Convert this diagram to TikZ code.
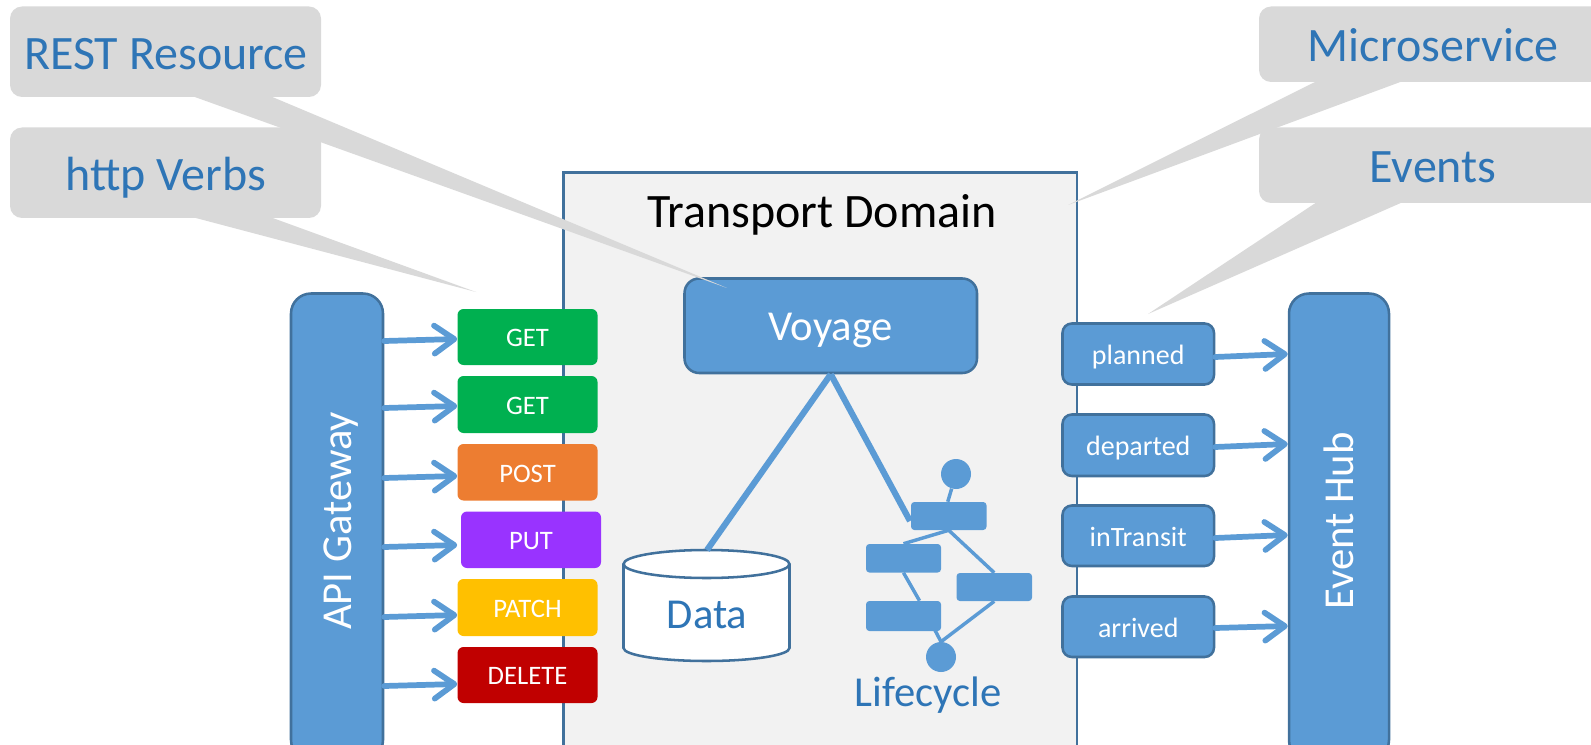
\documentclass[tikz,border=0pt]{standalone}
\usepackage{fontspec}
\setmainfont{Carlito}
\usetikzlibrary{arrows.meta,calc,positioning}
\definecolor{blu}{HTML}{5B9BD5}
\definecolor{bord}{HTML}{41719C}
\definecolor{txtb}{HTML}{2E75B6}
\definecolor{gry}{HTML}{D9D9D9}
\definecolor{dom}{HTML}{F2F2F2}
\definecolor{grn}{HTML}{00B050}
\definecolor{org}{HTML}{ED7D31}
\definecolor{pur}{HTML}{9933FF}
\definecolor{yel}{HTML}{FFC000}
\definecolor{rdd}{HTML}{C00000}
\newcommand{\fs}[1]{\fontsize{#1}{#1}\selectfont}
\newcommand{\dn}[2]{\raisebox{-#1pt}[\height][\depth]{#2}}
\tikzset{
  x=0.75pt,y=-0.75pt,
  callout/.style={fill=gry,rounded corners=9pt},
  calltext/.style={text=txtb,font=\fs{36}},
  verb/.style={rounded corners=4.5pt,text=white,font=\fs{20},inner sep=0pt},
  evt/.style={draw=bord,line width=1.9pt,fill=blu,rounded corners=7pt,text=white,font=\fs{21},inner sep=0pt},
  bar/.style={draw=bord,line width=1.9pt,fill=blu,rounded corners=15pt,text=white,font=\fs{32},inner sep=0pt},
  mini/.style={fill=blu,rounded corners=2.5pt,inner sep=0pt},
  dot/.style={fill=blu,circle,inner sep=0pt,minimum size=22.5pt},
  conn/.style={draw=blu,line width=4.3pt,line cap=round,-{Straight Barb[length=15pt,width=21pt,line width=4.3pt,round]}},
  link/.style={draw=blu,line width=4.6pt},
  thin/.style={draw=blu,line width=2.6pt},
}
\newcommand{\boxat}[7][]{%
  \node[#2,minimum width=#5*0.75pt-#3*0.75pt,minimum height=#6*0.75pt-#4*0.75pt,anchor=center,#1] (#7) at ({(#3+#5)/2},{(#4+#6)/2})}
\begin{document}
\begin{tikzpicture}
\useasboundingbox (0,0) rectangle (1591,745);
\begin{scope}
\clip (0,0) rectangle (1591,745);
% domain
\draw[bord,line width=1.9pt,fill=dom] (563.5,775) -- (563.5,172.5) -- (1077,172.5) -- (1077,775) -- cycle;
\node[font=\fs{36},text=black] (domtitle) at (822,215) {Transport Domain};
% voyage
\boxat[rounded corners=11pt,font=\fs{32}]{evt}{684.5}{278.5}{977}{373}{voyage} {\dn{3.5}{Voyage}};
% callout tails
\coordinate (tipRest) at (727,288);
\coordinate (tipHttp) at (476,292);
\coordinate (tipMicro) at (1068,205);
\coordinate (tipEvents) at (1148,314);
% callouts
\boxat{callout}{10}{6.5}{321}{97}{rest} {};
\fill[gry] (192,96) -- (tipRest) -- (270,96) -- cycle;
\boxat{callout}{10}{127.5}{321}{218}{http} {};
\fill[gry] (192,217) -- (tipHttp) -- (270,217) -- cycle;
\boxat{callout}{1259}{6.5}{1640}{82}{micro} {};
\fill[gry] (1317,81) -- (tipMicro) -- (1403,81) -- cycle;
\boxat{callout}{1259}{127.5}{1640}{203}{events} {};
\fill[gry] (1317,202) -- (tipEvents) -- (1403,202) -- cycle;
\node[calltext] (t1) at (166,54) {REST Resource};
\node[calltext] (t2) at (166,177.5) {http Verbs};
\node[calltext] (t3) at (1433,45) {Microservice};
\node[calltext] (t4) at (1433,167) {Events};
% bars
\boxat{bar}{291}{293.5}{383}{760}{api} {};
\node[bar,draw=none,fill=none,rotate=90] (apit) at (341,521) {API Gateway};
\boxat{bar}{1289}{293.5}{1389}{760}{hub} {};
\node[bar,draw=none,fill=none,rotate=90] (hubt) at (1339,521) {Event Hub};
% verbs
\boxat[fill=grn]{verb}{457.5}{309}{597.5}{365}{get1} {\dn{1}{GET}};
\boxat[fill=grn]{verb}{457.5}{376}{597.5}{433}{get2} {\dn{1}{GET}};
\boxat[fill=org]{verb}{457.5}{444}{597.5}{500.5}{post} {\dn{1}{POST}};
\boxat[fill=pur]{verb}{461}{511.5}{601}{568}{put} {\dn{1}{PUT}};
\boxat[fill=yel]{verb}{457.5}{579}{597.5}{636}{patch} {\dn{1}{PATCH}};
\boxat[fill=rdd]{verb}{457.5}{647}{597.5}{703}{del} {\dn{1}{DELETE}};
\draw[conn] (api.east |- 0,341) -- (get1.west |- 0,339);
\draw[conn] (api.east |- 0,408) -- (get2.west |- 0,406);
\draw[conn] (api.east |- 0,478) -- (post.west |- 0,476);
\draw[conn] (api.east |- 0,547) -- (post.west |- 0,545);
\draw[conn] (api.east |- 0,617) -- (patch.west |- 0,615);
\draw[conn] (api.east |- 0,686) -- (del.west |- 0,684);
% events
\boxat{evt}{1062.5}{323.5}{1214}{384.5}{planned} {\dn{2.5}{planned}};
\boxat{evt}{1062.5}{414.5}{1214}{476}{departed} {\dn{2}{departed}};
\boxat{evt}{1062.5}{505.5}{1214}{566}{intransit} {\dn{1}{inTransit}};
\boxat{evt}{1062.5}{596.5}{1214}{657}{arrived} {\dn{1}{arrived}};
\draw[conn] (planned.east |- 0,357) -- (hub.west |- 0,354);
\draw[conn] (departed.east |- 0,447) -- (hub.west |- 0,444);
\draw[conn] (intransit.east |- 0,538) -- (hub.west |- 0,535);
\draw[conn] (arrived.east |- 0,628) -- (hub.west |- 0,626);
% data
\draw[bord,line width=1.9pt,fill=white] (623.5,564) -- (623.5,648) arc[start angle=180,end angle=360,x radius=83,y radius=-13] -- (789.5,564);
\draw[bord,line width=1.9pt,fill=white] (706.5,564) ellipse[x radius=83,y radius=14];
\coordinate (datatop) at (707,550);
\node[text=txtb,font=\fs{32}] (data) at (707,615) {Data};
% lifecycle
\boxat{mini}{911}{502}{986.5}{530}{la} {};
\boxat{mini}{866}{544}{941}{572.5}{lb} {};
\boxat{mini}{956.5}{573}{1032}{601}{lc} {};
\boxat{mini}{866}{601}{941}{631}{ld} {};
\node[dot] (top) at (956,474) {};
\node[dot] (bot) at (941,657) {};
\node[text=txtb,font=\fs{32}] (life) at (928,695) {Lifecycle};
\coordinate (lain) at (910,521);
\draw[link] (voyage.south) -- (datatop);
\draw[link] (voyage.south) -- (lain);
\draw[thin] (top) -- ($(la.north)+(-1,0)$);
\draw[thin] (la.south) -- (lb.north);
\draw[thin] (la.south) -- (lc.north);
\draw[thin] (lb.south) -- ($(ld.north)+(16,0)$);
\draw[thin] (lc.south) -- (bot.north);
\draw[thin] ($(ld.south)+(31,-2)$) -- (bot.north);
\end{scope}
\end{tikzpicture}
\end{document}
